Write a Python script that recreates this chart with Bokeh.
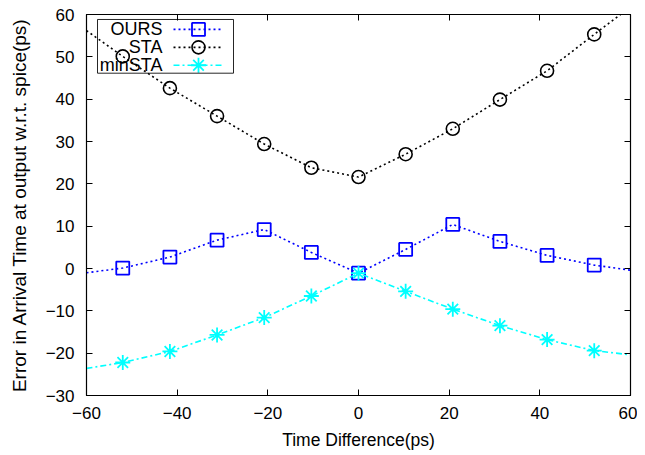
from bokeh.plotting import figure
from bokeh.models import (FixedTicker, LinearAxis, BoxAnnotation, Range1d,
                          Label, CustomJSTickFormatter)
from bokeh.embed import file_html
from bokeh.resources import INLINE

# ---- data ----
x_pts = [-52, -41.6, -31.2, -20.8, -10.4, 0, 10.4, 20.8, 31.2, 41.6, 52]
ours = [0.1, 2.7, 6.7, 9.2, 3.8, -1.1, 4.5, 10.4, 6.4, 3.1, 0.8]
sta = [50.1, 42.6, 36.0, 29.4, 23.8, 21.6, 27.0, 33.0, 39.9, 46.7, 55.3]
minsta = [-22.2, -19.6, -15.7, -11.6, -6.5, -1.1, -5.4, -9.6, -13.5, -16.8, -19.4]

# curve continuation to the plot edges
x_edge = [-60, 60]
ours_edge = [-1.0, -0.4]
sta_edge = [56.2, 61.8]
minsta_edge = [-23.6, -20.4]

x_ticks = [-60, -40, -20, 0, 20, 40, 60]
y_ticks = [-30, -20, -10, 0, 10, 20, 30, 40, 50, 60]
labels = ["OURS", "STA", "minSTA"]
colors = ["#0000ff", "black", "#00ffff"]
markers = ["square", "circle", "asterisk"]
msizes = [13, 13, 15]
dashes = ["2 3", "2 3", "6 3 2 3"]

FONT = "Liberation Sans"
FS = "17px"

X0, X1 = -60, 60
Y0, Y1 = -30, 60
FW, FH = 544, 383          # frame size in px

p = figure(width=637, height=452, output_backend="svg", toolbar_location=None,
           x_range=Range1d(X0, X1), y_range=Range1d(Y0, Y1),
           min_border_left=86, min_border_right=7, min_border_top=14,
           min_border_bottom=55, background_fill_color="white")
p.grid.visible = False
p.outline_line_color = "black"
p.outline_line_width = 1.2


def style_axis(ax, ticks, show_labels=True):
    ax.ticker = FixedTicker(ticks=ticks)
    ax.minor_tick_line_color = None
    ax.major_tick_in = 6
    ax.major_tick_out = 0
    ax.axis_line_color = "black"
    ax.major_tick_line_color = "black"
    ax.major_label_text_font = FONT
    ax.major_label_text_color = "black"
    ax.axis_label_text_font = FONT
    ax.axis_label_text_font_style = "normal"
    ax.axis_label_text_color = "black"
    ax.major_label_text_font_size = FS
    ax.axis_label_text_font_size = FS
    if not show_labels:
        ax.formatter = CustomJSTickFormatter(code="return ''")
        ax.major_label_standoff = 0


xa = p.xaxis[0]
ya = p.yaxis[0]
style_axis(xa, x_ticks)
style_axis(ya, y_ticks)
xa.axis_label = "Time Difference(ps)"
ya.axis_label = "Error in Arrival Time at output w.r.t. spice(ps)"
xa.axis_label_text_font_size = "17.5px"
ya.axis_label_text_font_size = "19px"
xa.major_label_standoff = 11
xa.axis_label_standoff = 8
ya.major_label_standoff = 12
ya.axis_label_standoff = 13

ra = LinearAxis()
style_axis(ra, y_ticks, False)
p.add_layout(ra, "right")
ta = LinearAxis()
style_axis(ta, x_ticks, False)
p.add_layout(ta, "above")

# ---- series ----
def full(xs, ys, edge):
    return [x_edge[0]] + xs + [x_edge[1]], [edge[0]] + ys + [edge[1]]

series = [ours, sta, minsta]
edges = [ours_edge, sta_edge, minsta_edge]
for ys, edge, c, mk, ms, d in zip(series, edges, colors, markers, msizes, dashes):
    xl, yl = full(x_pts, ys, edge)
    p.line(xl, yl, line_color=c, line_width=1.6, line_dash=d)
    p.scatter(x_pts, ys, marker=mk, size=ms, fill_color=None,
              line_color=c, line_width=1.8 if mk != "circle" else 1.6)

# ---- legend (gnuplot style: label left, sample right) ----
def fx(px):   # px from frame left -> data x
    return X0 + px * (X1 - X0) / FW


def fy(py):   # px from frame top -> data y
    return Y1 - py * (Y1 - Y0) / FH


row_py = [15, 33, 51]
for lab, c, mk, ms, d, py in zip(labels, colors, markers, msizes, dashes, row_py):
    yy = fy(py)
    p.line([fx(87), fx(137)], [yy, yy], line_color=c, line_width=1.6,
           line_dash=d)
    p.scatter([fx(112)], [yy], marker=mk, size=ms, fill_color=None,
              line_color=c, line_width=1.8 if mk != "circle" else 1.6)
    p.add_layout(Label(x=fx(76), y=yy, text=lab, text_align="right",
                       text_baseline="middle", text_font=FONT,
                       text_font_size="18px", text_color="black"))

p.add_layout(BoxAnnotation(left=fx(11), right=fx(147), top=fy(5),
                           bottom=fy(59), fill_alpha=0, line_color="black",
                           line_width=1, line_alpha=0.85))

open("out.html", "w").write(file_html(p, INLINE))
